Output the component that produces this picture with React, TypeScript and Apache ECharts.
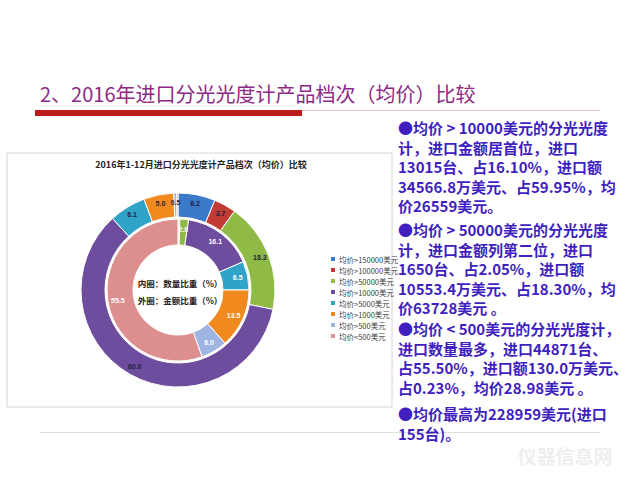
import React, { useEffect, useRef } from "react";
import * as echarts from "echarts";

const categories = [
  "均价>150000美元",
  "均价>100000美元",
  "均价>50000美元",
  "均价>10000美元",
  "均价>5000美元",
  "均价>1000美元",
  "均价>500美元",
  "均价<500美元",
];
const quantityShare = [0.2, 0.2, 2.0, 16.1, 6.5, 13.5, 6.0, 55.5];
const amountShare = [6.2, 3.7, 18.3, 60.0, 6.1, 5.0, 0.5, 0.2];
const colors = ["#3a7ac8", "#c23a34", "#8fba46", "#6e4c9e", "#2fa4c8", "#f0891e", "#9db5e0", "#dd8f90"];

const slideTitle = "2、2016年进口分光光度计产品档次（均价）比较";
const chartTitle = "2016年1-12月进口分光光度计产品档次（均价）比较";
const centerTexts = ["内圈：数量比重（%）", "外圈：金额比重（%）"];
const paragraphs = [
  ["●均价 > 10000美元的分光光度", "计，进口金额居首位，进口", "13015台、占16.10%，进口额", "34566.8万美元、占59.95%，均", "价26559美元。"],
  ["●均价 > 50000美元的分光光度", "计，进口金额列第二位，进口", "1650台、占2.05%，进口额", "10553.4万美元、占18.30%，均", "价63728美元 。"],
  ["●均价 < 500美元的分光光度计，", "进口数量最多，进口44871台、", "占55.50%，进口额130.0万美元、", "占0.23%，均价28.98美元 。"],
  ["●均价最高为228959美元(进口", "155台)。"],
];
const paragraphTops = [118, 220, 319, 404];

export default function App() {
  const ref = useRef<HTMLDivElement>(null);
  useEffect(() => {
    if (!ref.current) return;
    const chart = echarts.init(ref.current, null, { renderer: "svg" });
    const font = "'Noto Sans CJK SC', 'Noto Sans', sans-serif";
    const makeData = (vals: number[]) =>
      vals.map((v, i) => ({ name: categories[i], value: v, itemStyle: { color: colors[i] } }));

    const graphics: any[] = [
      { type: "rect", shape: { x: 7, y: 153, width: 385, height: 254 }, style: { fill: "#ffffff", stroke: "#d4d4d4", lineWidth: 1 }, z: -10 },
      { type: "text", style: { text: slideTitle, x: 40, y: 93, fill: "#8c2a86", font: `normal 20px ${font}`, verticalAlign: "middle" } },
      { type: "rect", shape: { x: 35, y: 110, width: 267, height: 6 }, style: { fill: "#bd1a1a" } },
      { type: "line", shape: { x1: 302, y1: 110.5, x2: 600, y2: 110.5 }, style: { stroke: "#dccaca", lineWidth: 1 } },
      { type: "line", shape: { x1: 40, y1: 432.5, x2: 600, y2: 432.5 }, style: { stroke: "#dedede", lineWidth: 1 } },
      { type: "text", style: { text: chartTitle, x: 201, y: 164, fill: "#222", font: `bold 9px ${font}`, align: "center", verticalAlign: "middle" } },
      { type: "text", style: { text: centerTexts[0], x: 180, y: 283, fill: "#222", font: `bold 8.5px ${font}`, align: "center", verticalAlign: "middle" }, z: 10 },
      { type: "text", style: { text: centerTexts[1], x: 180, y: 300, fill: "#222", font: `bold 8.5px ${font}`, align: "center", verticalAlign: "middle" }, z: 10 },
      { type: "text", style: { text: "仪器信息网", x: 565, y: 455, fill: "#eeeeee", font: `bold 19px ${font}`, align: "center", verticalAlign: "middle" } },
    ];
    paragraphs.forEach((lines, i) => {
      graphics.push({
        type: "text",
        style: {
          text: lines.join("\n"),
          x: 398,
          y: paragraphTops[i],
          fill: "#3f1fbf",
          font: `bold 15px ${font}`,
          lineHeight: 19.5,
          verticalAlign: "top",
        },
      });
    });

    chart.setOption({
      animation: false,
      backgroundColor: "#ffffff",
      legend: {
        orient: "vertical",
        left: 324,
        top: 250,
        itemWidth: 6,
        itemHeight: 6,
        itemGap: 3,
        icon: "rect",
        data: categories,
        textStyle: { fontSize: 7.5, lineHeight: 8, color: "#404040", fontFamily: font, padding: [0, 0, 0, -2] },
      },
      graphic: graphics,
      series: [
        {
          type: "pie",
          name: "数量比重",
          center: [178, 290],
          radius: [45, 71],
          startAngle: 90,
          clockwise: true,
          avoidLabelOverlap: false,
          label: { show: true, position: "inside", color: "#ffffff", fontSize: 7, fontWeight: "bold", formatter: (p: any) => p.value.toFixed(1) },
          labelLine: { show: false },
          itemStyle: { borderColor: "#ffffff", borderWidth: 1 },
          data: makeData(quantityShare),
        },
        {
          type: "pie",
          name: "金额比重",
          center: [178, 290],
          radius: [73, 97],
          startAngle: 90,
          clockwise: true,
          avoidLabelOverlap: false,
          label: { show: true, position: "inside", color: "#1e1e40", fontSize: 7, fontWeight: "bold", formatter: (p: any) => p.value.toFixed(1) },
          labelLine: { show: false },
          itemStyle: { borderColor: "#ffffff", borderWidth: 1 },
          data: makeData(amountShare),
        },
      ],
    });
    return () => chart.dispose();
  }, []);
  return <div ref={ref} style={{ position: "fixed", left: 0, top: 0, width: 640, height: 480 }} />;
}
